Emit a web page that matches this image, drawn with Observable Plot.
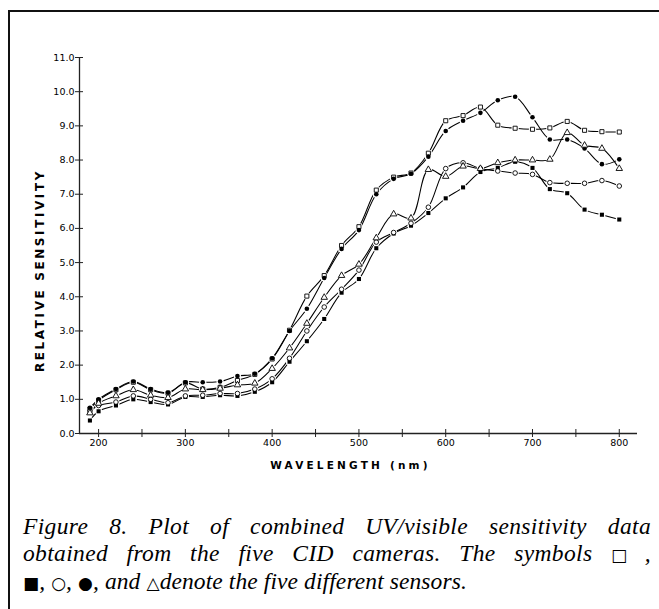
<!DOCTYPE html>
<html>
<head>
<meta charset="utf-8">
<script src="https://cdn.jsdelivr.net/npm/d3@7"></script>
<script src="https://cdn.jsdelivr.net/npm/@observablehq/plot@0.6"></script>
<style>
  html, body { margin: 0; padding: 0; background: #fff; }
  #page { position: relative; width: 659px; height: 609px; overflow: hidden; background: #fff; }
  #chart { position: absolute; left: 0; top: 0; z-index: 1; }
  #topline { position: absolute; left: 8px; top: 10px; width: 651px; height: 2px; background: #111; z-index: 2; }
  #leftline { position: absolute; left: 8px; top: 10px; width: 2px; height: 599px; background: #111; z-index: 2; }
  #caption { position: absolute; left: 23px; top: 513px; width: 628px; z-index: 2;
    font-family: "Liberation Serif", "DejaVu Serif", serif; font-style: italic;
    font-size: 23.5px; line-height: 26.5px; letter-spacing: 0.35px; color: #000; }
  #caption .j { text-align: justify; text-align-last: justify; white-space: nowrap; }
  #caption .l { text-align: left; letter-spacing: 0.1px; }
  .sym { font-style: normal; font-family: "DejaVu Sans", sans-serif; font-size: 17px; }
</style>
</head>
<body>
<div id="page">
  <div id="chart"></div>
  <div id="topline"></div>
  <div id="leftline"></div>
  <div id="caption">
    <div class="j">Figure 8. Plot of combined UV/visible sensitivity data</div>
    <div class="j">obtained from the five CID cameras. The symbols <span class="sym">□</span><span style="margin-left:5px">,</span></div>
    <div class="l"><span class="sym">■</span>, <span class="sym">○</span>, <span class="sym">●</span>, and <span class="sym">△</span>denote the five different sensors.</div>
  </div>
</div>
<script>
const wavelengths = [190,200,220,240,260,280,300,320,340,360,380,400,420,440,460,480,500,520,540,560,580,600,620,640,660,680,700,720,740,760,780,800];

const openSquare   = [0.72,0.97,1.28,1.50,1.28,1.18,1.48,1.30,1.35,1.55,1.73,2.18,3.02,4.02,4.62,5.50,6.05,7.12,7.50,7.62,8.20,9.15,9.30,9.55,9.02,8.93,8.90,8.94,9.13,8.87,8.83,8.82];
const filledSquare = [0.38,0.65,0.82,1.00,0.92,0.85,1.07,1.07,1.12,1.10,1.22,1.50,2.10,2.70,3.35,4.12,4.52,5.42,5.85,6.08,6.45,6.88,7.20,7.65,7.77,7.95,7.77,7.15,7.03,6.55,6.40,6.26];
const openCircle   = [0.65,0.82,0.92,1.10,1.00,0.90,1.10,1.12,1.17,1.17,1.30,1.60,2.20,3.00,3.70,4.22,4.78,5.60,5.88,6.15,6.62,7.75,7.92,7.75,7.68,7.62,7.58,7.34,7.32,7.32,7.40,7.24];
const filledCircle = [0.75,1.00,1.30,1.52,1.30,1.20,1.50,1.50,1.52,1.68,1.75,2.20,3.00,3.65,4.55,5.40,5.95,7.00,7.45,7.60,8.10,8.85,9.15,9.38,9.75,9.85,9.25,8.60,8.60,8.34,7.88,8.02];
const openTriangle = [0.60,0.88,1.10,1.28,1.12,1.05,1.30,1.28,1.32,1.42,1.47,1.90,2.50,3.22,3.98,4.62,4.95,5.72,6.42,6.30,7.72,7.52,7.82,7.75,7.92,8.00,8.00,8.02,8.80,8.43,8.34,7.75];

const xDomain = [178, 821];
const yDomain = [0, 11];
const xMajorTicks = [200,300,400,500,600,700,800];
const xAllTicks = [200,250,300,350,400,450,500,550,600,650,700,750,800];
const yTicks = [0,1,2,3,4,5,6,7,8,9,10,11];

const seriesDefs = [
  {name: "openSquare", values: openSquare, symbol: "square", filled: false},
  {name: "filledSquare", values: filledSquare, symbol: "square", filled: true},
  {name: "openCircle", values: openCircle, symbol: "circle", filled: false},
  {name: "filledCircle", values: filledCircle, symbol: "circle", filled: true},
  {name: "openTriangle", values: openTriangle, symbol: "triangle", filled: false}
];

const rows = seriesDefs.flatMap(s => s.values.map((v, i) => ({series: s.name, wl: wavelengths[i], v})));

const markerMarks = seriesDefs.map(s => {
  const data = rows.filter(d => d.series === s.name);
  return Plot.dot(data, {
    x: "wl", y: "v", symbol: () => s.symbol,
    r: s.symbol === "triangle" ? 2.4 : 2.3,
    fill: s.filled ? "black" : "white",
    stroke: s.filled ? "none" : "black",
    strokeWidth: 0.9
  });
});

const chart = Plot.plot({
  width: 659,
  height: 480,
  marginLeft: 79,
  marginRight: 22,
  marginTop: 57,
  marginBottom: 47,
  x: {domain: xDomain},
  y: {domain: yDomain},
  symbol: {type: "identity"},
  style: {fontFamily: "DejaVu Sans, sans-serif", fontSize: "9.5px", color: "black", background: "transparent"},
  marks: [
    Plot.ruleY([yDomain[0]], {stroke: "#222", strokeWidth: 1.3}),
    Plot.ruleX([xDomain[0]], {stroke: "#222", strokeWidth: 1.3}),
    Plot.axisX(xAllTicks, {tickSize: 8, dy: -4, fill: "none", label: null, stroke: "#222"}),
    Plot.axisX(xMajorTicks, {tickSize: 0, tickPadding: 6, label: null, tickFormat: d => String(d)}),
    Plot.axisY(yTicks, {tickSize: 8, dx: 4, fill: "none", label: null, stroke: "#222"}),
    Plot.axisY(yTicks, {tickSize: 0, tickPadding: 5, label: null, tickFormat: d => d.toFixed(1)}),
    Plot.text(["WAVELENGTH (nm)"], {frameAnchor: "bottom", textAnchor: "middle", dx: -8, dy: 35, fontSize: 10.5, fontWeight: "bold"}),
    Plot.text(["RELATIVE SENSITIVITY"], {frameAnchor: "left", textAnchor: "middle", rotate: -90, dx: -39, dy: 25, fontSize: 12, fontWeight: "bold"}),
    Plot.line(rows, {x: "wl", y: "v", z: "series", curve: "catmull-rom", stroke: "black", strokeWidth: 1.05}),
    Plot.dot(rows, {x: "wl", y: "v", r: 3.6, fill: "white", stroke: "none"}),
    ...markerMarks
  ]
});

chart.querySelectorAll("text").forEach(t => {
  if (t.textContent === "WAVELENGTH (nm)") t.setAttribute("letter-spacing", "3.2");
  if (t.textContent === "RELATIVE SENSITIVITY") t.setAttribute("letter-spacing", "2.6");
});

document.getElementById("chart").appendChild(chart);
</script>
</body>
</html>
